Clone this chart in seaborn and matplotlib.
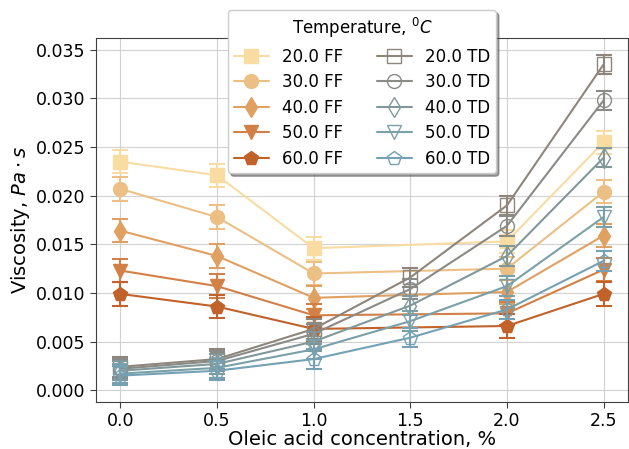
import matplotlib
matplotlib.use("Agg")
import matplotlib.pyplot as plt
import seaborn as sns

# Oleic acid concentration (%) at which each series was measured
conc_ff = [0.0, 0.5, 1.0, 2.0, 2.5]
conc_td = [0.0, 0.5, 1.0, 1.5, 2.0, 2.5]

temperatures = [20.0, 30.0, 40.0, 50.0, 60.0]

# Viscosity (Pa*s), FF series
ff_20 = [0.0235, 0.0221, 0.0146, 0.0153, 0.0255]
ff_30 = [0.0207, 0.0178, 0.0120, 0.0125, 0.0204]
ff_40 = [0.0164, 0.0138, 0.0095, 0.0101, 0.0159]
ff_50 = [0.0123, 0.0107, 0.0077, 0.0079, 0.0124]
ff_60 = [0.0099, 0.0086, 0.0063, 0.0066, 0.0099]
ff_err = [0.0012, 0.0012, 0.0012, 0.0012, 0.0012]

# Viscosity (Pa*s), TD series
td_20 = [0.0024, 0.0032, 0.0063, 0.0116, 0.0190, 0.0335]
td_30 = [0.0022, 0.0030, 0.0058, 0.0104, 0.0169, 0.0298]
td_40 = [0.0020, 0.0027, 0.0050, 0.0087, 0.0138, 0.0239]
td_50 = [0.0017, 0.0023, 0.0042, 0.0071, 0.0107, 0.0178]
td_60 = [0.0015, 0.0020, 0.0032, 0.0054, 0.0083, 0.0133]
td_err = [0.0010, 0.0010, 0.0010, 0.0010, 0.0010, 0.0010]

ff_series = [ff_20, ff_30, ff_40, ff_50, ff_60]
td_series = [td_20, td_30, td_40, td_50, td_60]

ff_colors = ["#f9dca2", "#ecbf84", "#e0a062", "#d38046", "#c0622a"]
td_colors = ["#8e867b", "#8a8a87", "#81989a", "#7aa0a8", "#74a1b3"]
markers = ["s", "o", "d", "v", "p"]

sns.set_style("whitegrid", {
    "axes.edgecolor": "0.25",
    "grid.color": "0.82",
    "xtick.bottom": True,
    "ytick.left": True,
    "text.color": "black",
    "axes.labelcolor": "black",
    "xtick.color": "black",
    "ytick.color": "black",
})
plt.rcParams["font.family"] = ["DejaVu Sans"]

fig, ax = plt.subplots(figsize=(6.29, 4.49), dpi=100)
fig.subplots_adjust(left=0.153, right=0.998, top=0.915, bottom=0.105)

for t, vals, c, m in zip(temperatures, ff_series, ff_colors, markers):
    sns.lineplot(x=conc_ff, y=vals, ax=ax, color=c, marker=m, markersize=10,
                 markeredgecolor=c, markerfacecolor=c, markeredgewidth=1.0,
                 linewidth=1.5, label=f"{t} FF")
    ax.errorbar(conc_ff, vals, yerr=ff_err, fmt="none", ecolor=c,
                elinewidth=1.5, capsize=5.5, capthick=1.5)

for t, vals, c, m in zip(temperatures, td_series, td_colors, markers):
    sns.lineplot(x=conc_td, y=vals, ax=ax, color=c, marker=m, markersize=10,
                 markeredgecolor=c, markerfacecolor="none", markeredgewidth=1.0,
                 linewidth=1.5, label=f"{t} TD")
    ax.errorbar(conc_td, vals, yerr=td_err, fmt="none", ecolor=c,
                elinewidth=1.5, capsize=5.5, capthick=1.5)

ax.set_xticks([0.0, 0.5, 1.0, 1.5, 2.0, 2.5])
ax.set_yticks([0.000, 0.005, 0.010, 0.015, 0.020, 0.025, 0.030, 0.035])
ax.yaxis.set_major_formatter(matplotlib.ticker.FormatStrFormatter("%.3f"))
ax.xaxis.set_major_formatter(matplotlib.ticker.FormatStrFormatter("%.1f"))
ax.tick_params(labelsize=12.5, length=4, color="0.25")
ax.set_xlabel("Oleic acid concentration, %", fontsize=14, labelpad=0)
ax.set_ylabel(r"Viscosity, $Pa \cdot s$", fontsize=14, labelpad=3)

leg = ax.legend(title=r"Temperature, $^0C$", ncol=2, loc="upper center",
                bbox_to_anchor=(0.5, 1.1), shadow=True, fontsize=12,
                title_fontsize=12, framealpha=1, columnspacing=2.0,
                handlelength=2.1, borderpad=0.35, labelspacing=0.45)

fig.savefig("out.png", dpi=100)
